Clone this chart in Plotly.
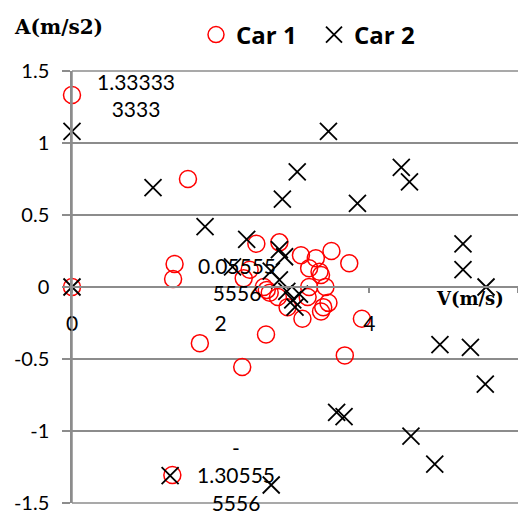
import plotly.graph_objects as go

# ---- data ----
car1_v = [0, 0, 1.56, 1.38, 1.36, 1.72, 2.29, 2.61, 1.35,
          2.48, 2.79, 3.08, 3.49, 3.73, 3.28, 3.19, 3.33, 3.35, 3.41, 3.19,
          3.17, 3.45, 3.38, 3.35, 3.10, 3.90, 3.67,
          2.31, 2.39, 2.58, 2.62, 2.66, 2.77, 2.90]
car1_a = [1.3333333, 0, 0.75, 0.16, 0.0555556, -0.39, -0.556, -0.33, -1.3055556,
          0.30, 0.31, 0.22, 0.25, 0.165, 0.20, 0.13, 0.106, 0.083, 0.0, 0.0,
          -0.07, -0.11, -0.14, -0.17, -0.22, -0.22, -0.475,
          0.06, 0.12, 0.0, -0.02, -0.04, -0.07, -0.14]

car2_v = [0, 0, 1.09, 1.79, 2.35, 2.83, 3.03, 3.45, 3.84, 4.43, 4.54,
          5.26, 5.26, 5.57, 4.95, 5.36, 5.56, 3.56, 3.66, 4.56, 4.88,
          1.32, 2.68,
          2.16, 2.79, 2.86, 2.68, 2.79, 2.89, 2.97, 3.06, 3.00]
car2_a = [1.08, 0, 0.69, 0.42, 0.33, 0.61, 0.80, 1.08, 0.58, 0.83, 0.73,
          0.30, 0.12, 0.0, -0.40, -0.42, -0.675, -0.87, -0.90, -1.035, -1.23,
          -1.31, -1.375,
          0.14, 0.26, 0.21, 0.11, 0.05, -0.03, -0.09, -0.05, -0.14]

label_v = [0, 1.36, 1.35]
label_a = [1.3333333, 0.0555556, -1.3055556]
label_text = ["1.33333<br>3333", "0.05555<br>5556", "-<br>1.30555<br>5556"]

x_ticks = [0, 2, 4, 6]
y_ticks = [-1.5, -1, -0.5, 0, 0.5, 1, 1.5]
y_ticktext = ["-1.5", "-1", "-0.5", "0", "0.5", "1", "1.5"]

GRID = "#8c8c8c"

fig = go.Figure()
fig.add_trace(go.Scatter(
    x=car1_v, y=car1_a, mode="markers", name="Car 1", cliponaxis=False,
    marker=dict(symbol="circle-open", size=17, color="#ff0000",
                line=dict(width=1.5, color="#ff0000")),
))
fig.add_trace(go.Scatter(
    x=car2_v, y=car2_a, mode="markers", name="Car 2", cliponaxis=False,
    marker=dict(symbol="x-thin-open", size=17, color="#000000",
                line=dict(width=1.8, color="#000000")),
))

for xv, yv, t in zip(label_v, label_a, label_text):
    fig.add_annotation(x=xv, y=yv, text=t, showarrow=False, xshift=64,
                       xanchor="center", yanchor="middle", align="center",
                       font=dict(family="Lato", size=21, color="#000000"))

fig.add_annotation(xref="paper", yref="paper", x=(58 - 72) / 446, y=1 + (71 - 27) / 432,
                   text="<b>A(m/s2)</b>", showarrow=False, xanchor="center", yanchor="middle",
                   font=dict(family="DejaVu Serif", size=20, color="#000000"))
fig.add_annotation(xref="paper", yref="paper", x=(470 - 72) / 446, y=(503 - 298) / 432,
                   text="<b>V(m/s)</b>", showarrow=False, xanchor="center", yanchor="middle",
                   font=dict(family="DejaVu Serif", size=18, color="#000000"))

# frame lines: vertical value axis and outer gridlines (paper coordinates)
fig.add_shape(type="line", xref="paper", yref="paper", x0=0, x1=0, y0=0, y1=1,
              line=dict(color=GRID, width=1.5), layer="above")
fig.add_shape(type="line", xref="paper", yref="paper", x0=0, x1=1, y0=1, y1=1,
              line=dict(color=GRID, width=1.5), layer="above")
fig.add_shape(type="line", xref="paper", yref="paper", x0=0, x1=1, y0=0, y1=0,
              line=dict(color=GRID, width=1.5), layer="above")

fig.update_layout(
    width=518, height=521,
    margin=dict(l=72, r=0, t=71, b=18),
    paper_bgcolor="white", plot_bgcolor="white",
    showlegend=True,
    legend=dict(orientation="h", x=(196 - 72) / 446, xanchor="left",
                y=1 + (71 - 35) / 432, yanchor="middle",
                font=dict(family="Open Sans", size=24, color="#000000", weight="bold"),
                bgcolor="rgba(0,0,0,0)", entrywidth=73),
    xaxis=dict(range=[0, 6], tickvals=x_ticks, anchor="free", position=0.5,
               showgrid=False, zeroline=False, showline=True, linecolor=GRID,
               linewidth=1.5, ticks="outside", ticklen=5, tickcolor=GRID, tickwidth=1.5,
               ticklabelstandoff=13,
               tickfont=dict(family="Lato", size=21, color="#000000")),
    yaxis=dict(range=[-1.5, 1.5], tickvals=y_ticks, ticktext=y_ticktext,
               showgrid=True, gridcolor=GRID, gridwidth=1.5, zeroline=False,
               showline=True, linecolor=GRID, linewidth=1.5,
               ticks="outside", ticklen=8, tickcolor=GRID, tickwidth=1.5,
               ticklabelstandoff=9,
               tickfont=dict(family="Lato", size=20, color="#000000")),
)

fig.write_html("out.html")
